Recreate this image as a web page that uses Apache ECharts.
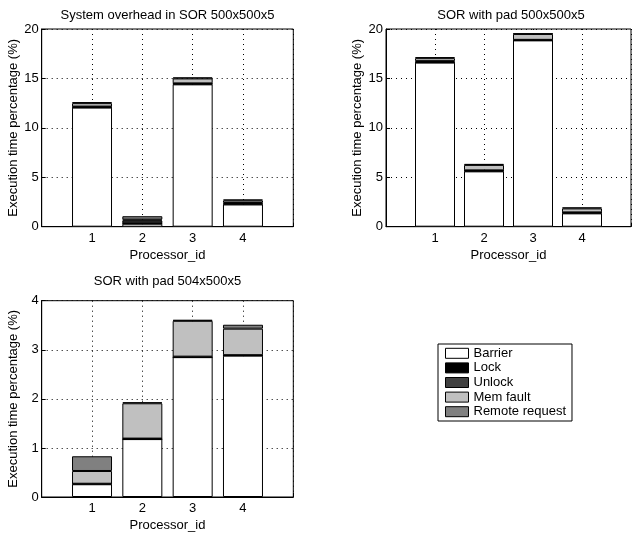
<!DOCTYPE html>
<html>
<head>
<meta charset="utf-8">
<script src="https://cdn.jsdelivr.net/npm/echarts@6/dist/echarts.min.js"></script>
<style>
html,body{margin:0;padding:0;background:#fff;}
#chart{width:634px;height:533px;}
</style>
</head>
<body>
<div id="chart"></div>
<script>
const xCategories = ['0', '1', '2', '3', '4', '5'];
const xTickLabels = ['', '1', '2', '3', '4', ''];
const seriesNames = ['Barrier', 'Lock', 'Unlock', 'Mem fault', 'Remote request'];
const seriesColors = ['#ffffff', '#000000', '#404040', '#c0c0c0', '#808080'];
const plotTitles = ['System overhead in SOR 500x500x5', 'SOR with pad 500x500x5', 'SOR with pad 504x500x5'];

// Plot 1: System overhead in SOR 500x500x5 (processors 1..4)
const p1Barrier = [12.05, 0.30, 14.40, 2.25];
const p1Lock    = [0.05, 0.03, 0.05, 0.05];
const p1Unlock  = [0.05, 0.30, 0.05, 0.10];
const p1MemFault= [0.35, 0.08, 0.50, 0.25];
const p1Remote  = [0.10, 0.35, 0.10, 0.10];

// Plot 2: SOR with pad 500x500x5
const p2Barrier = [16.60, 5.60, 18.85, 1.35];
const p2Lock    = [0.05, 0.05, 0.03, 0.05];
const p2Unlock  = [0.10, 0.05, 0.02, 0.05];
const p2MemFault= [0.30, 0.55, 0.60, 0.40];
const p2Remote  = [0.10, 0.10, 0.05, 0.10];

// Plot 3: SOR with pad 504x500x5
const p3Barrier = [0.26, 1.18, 2.85, 2.88];
const p3Lock    = [0.01, 0.00, 0.00, 0.01];
const p3Unlock  = [0.00, 0.01, 0.01, 0.00];
const p3MemFault= [0.26, 0.72, 0.73, 0.54];
const p3Remote  = [0.30, 0.02, 0.02, 0.08];

const plotData = [
  [p1Barrier, p1Lock, p1Unlock, p1MemFault, p1Remote],
  [p2Barrier, p2Lock, p2Unlock, p2MemFault, p2Remote],
  [p3Barrier, p3Lock, p3Unlock, p3MemFault, p3Remote]
];
const yMax = [20, 20, 4];
const yInterval = [5, 5, 1];

const FONT = '"Liberation Sans", Arial, sans-serif';
const FS = 13;

const grids = [
  {left: 41.7, top: 29, width: 251.6, height: 197.7},
  {left: 386, top: 29, width: 250, height: 197.7},
  {left: 41.7, top: 300.7, width: 251.6, height: 197.3}
];
const titlePos = [[167.5, 15], [511, 15], [167.5, 281.7]];

const dotted = {color: '#000', width: 1, type: [1, 4]};

const xAxes = grids.map((g, i) => ({
  gridIndex: i, type: 'category', data: xCategories, boundaryGap: false,
  name: 'Processor_id', nameLocation: 'middle', nameGap: 22,
  nameTextStyle: {fontFamily: FONT, fontSize: FS, color: '#000'},
  axisLine: {show: true, lineStyle: {color: '#000', width: 1}},
  axisTick: {show: true, inside: true, length: 4, interval: 0, lineStyle: {color: '#000'}},
  axisLabel: {fontFamily: FONT, fontSize: FS, color: '#000', margin: 5, interval: 0,
    formatter: (v, idx) => xTickLabels[idx]},
  splitLine: {show: true, interval: 0, lineStyle: dotted}
}));
const yAxes = grids.map((g, i) => ({
  gridIndex: i, type: 'value', min: 0, max: yMax[i], interval: yInterval[i],
  name: 'Execution time percentage (%)', nameLocation: 'middle', nameGap: 22,
  nameTextStyle: {fontFamily: FONT, fontSize: FS, color: '#000'},
  axisLine: {show: true, lineStyle: {color: '#000', width: 1}},
  axisTick: {show: true, inside: true, length: 4, lineStyle: {color: '#000'}},
  axisLabel: {fontFamily: FONT, fontSize: FS, color: '#000', margin: 3},
  splitLine: {show: true, lineStyle: dotted}
}));

const series = [];
plotData.forEach((arrs, p) => {
  arrs.forEach((vals, s) => {
    series.push({
      name: seriesNames[s], type: 'bar', xAxisIndex: p, yAxisIndex: p,
      stack: 'plot' + p, barWidth: 40,
      itemStyle: {color: seriesColors[s], borderColor: '#000', borderWidth: 1},
      emphasis: {disabled: true},
      data: ['-'].concat(vals, ['-'])
    });
  });
});

const chart = echarts.init(document.getElementById('chart'), null, {renderer: 'canvas'});
chart.setOption({
  animation: false,
  backgroundColor: '#fff',
  grid: grids.map(g => Object.assign({show: true, borderColor: '#000', borderWidth: 1, backgroundColor: 'transparent'}, g)),
  xAxis: xAxes,
  yAxis: yAxes,
  legend: {
    data: seriesNames, orient: 'vertical', left: 438, top: 344, icon: 'rect',
    borderColor: '#000', borderWidth: 1, padding: [2, 6, 2, 7],
    itemWidth: 23, itemHeight: 10, itemGap: 0,
    itemStyle: {borderColor: '#000', borderWidth: 1},
    textStyle: {fontFamily: FONT, fontSize: FS, color: '#000', lineHeight: 14.6},
    selectedMode: false, backgroundColor: '#fff'
  },
  graphic: plotTitles.map((t, i) => ({
    type: 'text', x: titlePos[i][0], y: titlePos[i][1],
    style: {text: t, fill: '#000', font: FS + 'px ' + FONT, textAlign: 'center', textVerticalAlign: 'middle'}
  })),
  series: series
});
</script>
</body>
</html>
